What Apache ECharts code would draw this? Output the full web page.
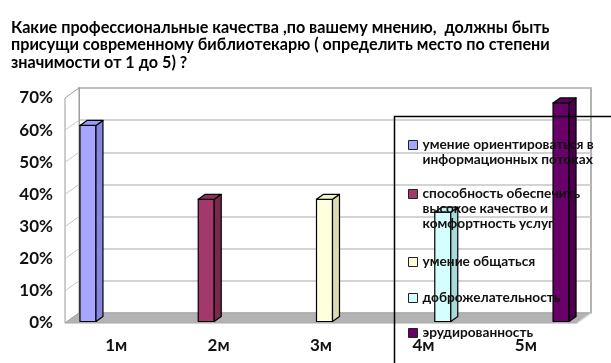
<!DOCTYPE html>
<html>
<head>
<meta charset="utf-8">
<script src="https://cdn.jsdelivr.net/npm/echarts@6/dist/echarts.min.js"></script>
<style>
html,body{margin:0;padding:0;background:#fff;}
#chart{width:611px;height:363px;}
</style>
</head>
<body>
<div id="chart"></div>
<script>
const titleText = 'Какие профессиональные качества ,по вашему мнению,  должны быть\nприсущи современному библиотекарю ( определить место по степени\nзначимости от 1 до 5) ?';
const categories = ['1м', '2м', '3м', '4м', '5м'];
const seriesNames = [
  'умение ориентироваться в информационных потоках',
  'способность обеспечить высокое качество и комфортность услуг',
  'умение общаться',
  'доброжелательность',
  'эрудированность'
];
const legendLines = [
  ['умение ориентироваться в', 'информационных потоках'],
  ['способность обеспечить', 'высокое качество и', 'комфортность услуг'],
  ['умение общаться'],
  ['доброжелательность'],
  ['эрудированность']
];
const values = [61, 38, 38, 34, 68];
const yMin = 0, yMax = 70, yStep = 10;
const frontColors = ['#a6a6ff', '#a3386b', '#ffffdc', '#d4ffff', '#690069'];
const sideColors  = ['#8585dd', '#7a2850', '#dcdcae', '#a8dada', '#4a004a'];
const topColors   = ['#9999ff', '#8f2f5c', '#f0f0c4', '#bfeeee', '#5a005a'];
const legendFirstLineY = [145, 194, 262, 298, 333];

const chart = echarts.init(document.getElementById('chart'), null, {renderer: 'canvas'});
const FONT = 'Lato';

// geometry of the pseudo-3D box (decoration)
const back = {l: 79, t: 88, w: 512, h: 225};
const dX = -14, dY = 10; // front offset relative to back wall

function makeRender(slotIdx) {
  return function (params, api) {
    const ci = api.value(0), v = api.value(1);
    const p0 = api.coord([ci, 0]);
    const p1 = api.coord([ci, v]);
    const catW = api.size([1, 0])[0];
    const slot = catW * 0.155;
    const cx = p0[0] + 3.5 + (slotIdx - 2) * slot;
    const hw = 8, dx = 7, dy = 5;
    const yb = p0[1] - 1.5, yt = p1[1] - 1.5;
    const xl = cx - hw, xr = cx + hw;
    const st = {stroke: '#000', lineWidth: 1.2, lineJoin: 'round'};
    return {
      type: 'group',
      children: [
        {type: 'polygon', shape: {points: [[xl, yt], [xr, yt], [xr, yb], [xl, yb]]}, style: Object.assign({fill: frontColors[slotIdx]}, st)},
        {type: 'polygon', shape: {points: [[xr, yt], [xr + dx, yt - dy], [xr + dx, yb - dy], [xr, yb]]}, style: Object.assign({fill: sideColors[slotIdx]}, st)},
        {type: 'polygon', shape: {points: [[xl, yt], [xl + dx, yt - dy], [xr + dx, yt - dy], [xr, yt]]}, style: Object.assign({fill: topColors[slotIdx]}, st)}
      ]
    };
  };
}

const series = seriesNames.map((name, i) => ({
  type: 'custom',
  name: name,
  xAxisIndex: 1,
  yAxisIndex: 1,
  z: 3,
  itemStyle: {color: frontColors[i], borderColor: '#000', borderWidth: 1},
  renderItem: makeRender(i),
  data: [[i, values[i]]]
}));

const LH = 15;
const legends = seriesNames.map((name, i) => {
  const n = legendLines[i].length;
  return {
    orient: 'vertical',
    left: 408,
    top: legendFirstLineY[i] - LH * (2 * n - 1) / 2,
    padding: 0,
    itemWidth: 9,
    itemHeight: 9,
    icon: 'rect',
    selectedMode: false,
    z: 10,
    itemStyle: {borderColor: '#222', borderWidth: 1},
    formatter: function (nm) {
      const lines = legendLines[seriesNames.indexOf(nm)];
      return '\n'.repeat(lines.length - 1) + lines.join('\n');
    },
    textStyle: {fontFamily: FONT, fontWeight: 'bold', fontSize: 13.7, color: '#111', lineHeight: LH},
    data: [name]
  };
});

// left side wall, floor
const graphics = [];
graphics.push({
  type: 'polygon', z: 1,
  shape: {points: [[back.l + dX, back.t + dY], [back.l, back.t], [back.l, back.t + back.h], [back.l + dX, back.t + back.h + dY]]},
  style: {fill: '#fff', stroke: '#9a9a9a', lineWidth: 1}
});
for (let k = 1; k < 7; k++) {
  const y = back.t + back.h - k * back.h / 7;
  graphics.push({type: 'line', z: 1, shape: {x1: back.l + dX, y1: y + dY, x2: back.l, y2: y}, style: {stroke: '#c8c8c8', lineWidth: 1}});
}
graphics.push({
  type: 'polygon', z: 1,
  shape: {points: [[back.l, back.t + back.h], [back.l + back.w, back.t + back.h], [back.l + back.w + dX, back.t + back.h + dY], [back.l + dX, back.t + back.h + dY]]},
  style: {fill: '#b3b3b3', stroke: '#a8a8a8', lineWidth: 1}
});
graphics.push({
  type: 'line', z: 1,
  shape: {x1: back.l + back.w, y1: back.t + back.h, x2: back.l + back.w + dX, y2: back.t + back.h + dY},
  style: {stroke: '#d8d8d8', lineWidth: 1.5}
});
// legend frame
graphics.push({
  type: 'rect', z: 12,
  shape: {x: 394.5, y: 116.5, width: 400, height: 400},
  style: {fill: 'none', stroke: '#000', lineWidth: 1.5}
});

const option = {
  backgroundColor: '#fff',
  animation: false,
  title: {
    text: titleText,
    left: 11, top: 19, padding: 0,
    textStyle: {fontFamily: FONT, fontWeight: 'bold', fontSize: 16.2, color: '#000', lineHeight: 17.5}
  },
  grid: [
    {left: back.l, top: back.t, width: back.w, height: back.h, show: true, borderColor: '#999', borderWidth: 1.5, backgroundColor: 'transparent'},
    {left: back.l + dX, top: back.t + dY, width: back.w, height: back.h}
  ],
  xAxis: [
    {gridIndex: 0, type: 'category', data: categories, axisLine: {show: false}, axisTick: {show: false}, axisLabel: {show: false}},
    {gridIndex: 1, type: 'category', data: categories, axisLine: {show: false}, axisTick: {show: false},
      axisLabel: {margin: 14, fontFamily: FONT, fontWeight: 'bold', fontSize: 17, color: '#111'}}
  ],
  yAxis: [
    {gridIndex: 0, type: 'value', min: yMin, max: yMax, interval: yStep,
      axisLine: {show: true, lineStyle: {color: '#999', width: 1.5}}, axisTick: {show: false}, axisLabel: {show: false},
      splitLine: {show: true, lineStyle: {color: '#c4c4c4', width: 1.5}}},
    {gridIndex: 1, type: 'value', min: yMin, max: yMax, interval: yStep,
      axisLine: {show: false}, axisTick: {show: false}, splitLine: {show: false},
      axisLabel: {margin: 12, formatter: '{value}%', fontFamily: FONT, fontWeight: 'bold', fontSize: 17, color: '#111'}}
  ],
  legend: legends,
  graphic: graphics,
  series: series
};
chart.setOption(option);
</script>
</body>
</html>
